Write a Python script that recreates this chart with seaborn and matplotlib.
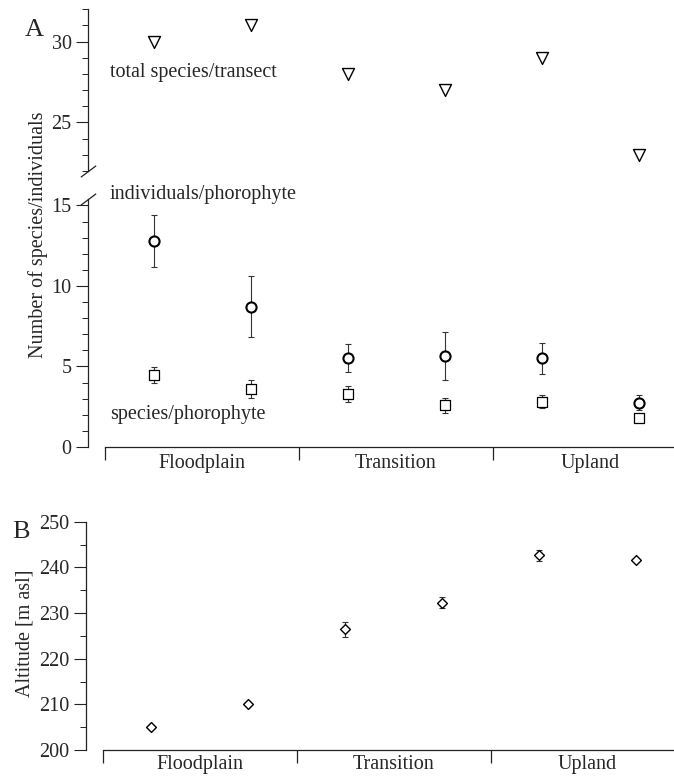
"""Epiphyte counts and altitude along floodplain-transition-upland transects."""

import numpy as np
import pandas as pd
import matplotlib
matplotlib.use("Agg")
import matplotlib.pyplot as plt
from matplotlib.ticker import MultipleLocator, FixedLocator, NullFormatter, NullLocator
from matplotlib.transforms import ScaledTranslation
import seaborn as sns

# six transects, two per zone
SITES = [1, 2, 3, 4, 5, 6]
ZONES = ["Floodplain", "Transition", "Upland"]
ZONE_CENTERS = [1.5, 3.5, 5.5]
ZONE_BOUNDS = [0.5, 2.5, 4.5]

TOTAL_SPECIES = [30, 31, 28, 27, 29, 23]
INDIVIDUALS = [12.8, 8.7, 5.55, 5.65, 5.5, 2.75]
INDIVIDUALS_ERR = [1.6, 1.9, 0.87, 1.5, 0.98, 0.45]
SPECIES = [4.45, 3.6, 3.3, 2.6, 2.8, 1.8]
SPECIES_ERR = [0.5, 0.53, 0.48, 0.46, 0.4, 0.0]
ALTITUDE = [205, 210, 226.4, 232.2, 242.7, 241.6]
ALTITUDE_ERR = [0.0, 0.0, 1.7, 1.2, 1.2, 0.0]

FONT = ["Liberation Serif", "DejaVu Serif"]
FS = 14.5
W, H = 674, 780
SPINE_OFFSET = 17  # px between y-axis and start of x-axis

sns.set_theme(style="ticks")
plt.rcParams["font.family"] = FONT
plt.rcParams["axes.linewidth"] = 0.9
plt.rcParams["axes.edgecolor"] = "#222222"

df = pd.DataFrame({
    "site": SITES,
    "total": TOTAL_SPECIES,
    "ind": INDIVIDUALS,
    "ind_err": INDIVIDUALS_ERR,
    "spp": SPECIES,
    "spp_err": SPECIES_ERR,
    "alt": ALTITUDE,
    "alt_err": ALTITUDE_ERR,
})


def px_axes(fig, left, bottom_px, right, top_px):
    """Axes given in pixel coordinates measured from the top of the image."""
    return fig.add_axes([left / W, 1 - bottom_px / H, (right - left) / W,
                         (bottom_px - top_px) / H])


def style_y(ax, major, minor):
    ax.spines[["top", "right"]].set_visible(False)
    ax.spines["left"].set_position(("outward", SPINE_OFFSET * 0.72))
    ax.yaxis.set_major_locator(MultipleLocator(major))
    ax.yaxis.set_minor_locator(MultipleLocator(minor))
    ax.tick_params(axis="y", which="major", direction="out", length=8.8,
                   width=0.8, pad=3, labelsize=FS, color="#222222")
    ax.tick_params(axis="y", which="minor", direction="out", length=4.3,
                   width=0.7, color="#222222")
    ax.set_ylabel("")
    ax.set_xlabel("")


def style_x(ax, pad):
    ax.xaxis.set_major_locator(FixedLocator(ZONE_BOUNDS))
    ax.xaxis.set_major_formatter(NullFormatter())
    ax.xaxis.set_minor_locator(FixedLocator(ZONE_CENTERS))
    ax.set_xticklabels(ZONES, minor=True)
    ax.tick_params(axis="x", which="major", direction="out", length=9,
                   width=0.9, color="#222222")
    ax.tick_params(axis="x", which="minor", length=0, pad=pad, labelsize=FS)


def break_mark(ax, y_axes, fig):
    trans = ax.transAxes + ScaledTranslation(-SPINE_OFFSET / 100, 0, fig.dpi_scale_trans)
    ax.plot([0], [y_axes], transform=trans, marker=[(-1, -0.75), (1, 0.75)],
            markersize=11, color="#222222", mew=0.9, linestyle="none", clip_on=False)


def points(ax, y, marker, size, lw, err=None):
    if err is not None:
        ax.errorbar(df["site"], df[y], yerr=df[err], fmt="none", ecolor="#333333",
                    elinewidth=0.8, capsize=2.2, capthick=0.8, zorder=2)
    sns.scatterplot(data=df, x="site", y=y, marker=marker, s=size ** 2,
                    color="white", edgecolor="black", linewidth=lw, zorder=3, ax=ax)


fig = plt.figure(figsize=(W / 100, H / 100), dpi=100)

# panel A, upper segment (total species per transect)
ax_top = px_axes(fig, 105, 171, 673, 9.3)
points(ax_top, "total", "v", 8.6, 1.0)
ax_top.set_ylim(22, 32)
ax_top.set_xlim(0.5, 0.5 + 568 / 97)
style_y(ax_top, 5, 1)
ax_top.spines["bottom"].set_visible(False)
ax_top.xaxis.set_major_locator(NullLocator())
ax_top.set_xlabel("")
break_mark(ax_top, 0, fig)
ax_top.text(0.55, 28.1, "total species/transect", fontsize=FS, va="center")

# panel A, lower segment (per phorophyte)
ax_low = px_axes(fig, 105, 447, 673, 199)
points(ax_low, "ind", "o", 7.3, 1.5, err="ind_err")
points(ax_low, "spp", "s", 7.6, 0.9, err="spp_err")
ax_low.set_ylim(0, 15.4)
ax_low.set_xlim(0.5, 0.5 + 568 / 97)
style_y(ax_low, 5, 1)
style_x(ax_low, pad=5)
break_mark(ax_low, 1, fig)
ax_low.text(0.55, 15.65, "individuals/phorophyte", fontsize=FS, va="center", clip_on=False)
ax_low.text(0.55, 1.99, "species/phorophyte", fontsize=FS, va="center")

fig.text(38 / W, 1 - 234.5 / H, "Number of species/individuals", fontsize=FS,
         rotation=90, ha="center", va="center")
fig.text(34 / W, 1 - 30 / H, "A", fontsize=19, ha="center", va="center")

# panel B, altitude
ax_b = px_axes(fig, 102.5, 750, 673, 521.7)
points(ax_b, "alt", "D", 5.0, 1.0, err="alt_err")
ax_b.set_ylim(200, 250)
ax_b.set_xlim(0.5, 0.5 + 570.5 / 97)
style_y(ax_b, 10, 5)
style_x(ax_b, pad=3.5)
fig.text(25 / W, 1 - 633.5 / H, "Altitude [m asl]", fontsize=FS,
         rotation=90, ha="center", va="center")
fig.text(21 / W, 1 - 532 / H, "B", fontsize=19, ha="center", va="center")

fig.savefig("out.png", dpi=100)
plt.close(fig)
